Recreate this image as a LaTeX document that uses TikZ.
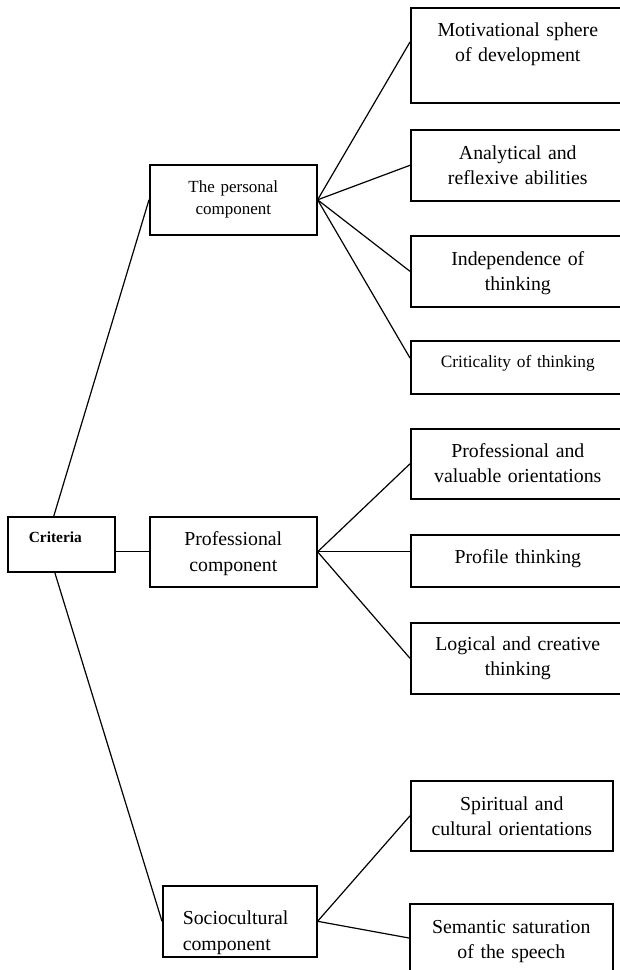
\documentclass[tikz,border=0pt]{standalone}
\usepackage{fontspec}
\setmainfont{Liberation Serif}
\begin{document}
\begin{tikzpicture}[x=1pt,y=-1pt,
  box/.style={draw,line width=1.6pt,anchor=north west,inner sep=0pt,align=center,font=\fontsize{19.8}{25}\selectfont},
  link/.style={line width=1.2pt}]
\useasboundingbox (0,0) rectangle (619,970);
\node[box,text width=107pt,text height=26pt,text depth=29pt,align=left,font=\bfseries\fontsize{15.4}{18}\selectfont] (C) at (7,516) {\hspace*{21pt}Criteria};
\node[box,text width=167pt,text height=28pt,text depth=42pt,font=\fontsize{17}{22}\selectfont] (P1) at (149,164) {The personal\\component};
\node[box,text width=167pt,text height=29pt,text depth=41pt,font=\fontsize{19.8}{26}\selectfont] (P2) at (149,516) {Professional\\component};
\node[box,text width=154pt,text height=39pt,text depth=32pt,align=left,font=\fontsize{19.8}{26}\selectfont] (P3) at (162,885) {\hspace*{20pt}Sociocultural\\\hspace*{20pt}component};
\node[box,text width=214pt,text height=29pt,text depth=66pt] (M) at (410,7) {Motivational sphere\\of development};
\node[box,text width=214pt,text height=30pt,text depth=41pt] (A) at (410,129) {Analytical and\\reflexive abilities};
\node[box,text width=214pt,text height=30pt,text depth=41pt] (I) at (410,235) {Independence of\\thinking};
\node[box,text width=214pt,text height=27pt,text depth=26pt,font=\fontsize{17.3}{22}\selectfont] (K) at (410,340) {Criticality of thinking};
\node[box,text width=214pt,text height=29pt,text depth=41pt] (V) at (410,428) {Professional and\\valuable orientations};
\node[box,text width=214pt,text height=29pt,text depth=23pt] (F) at (410,534) {Profile thinking};
\node[box,text width=214pt,text height=28pt,text depth=43pt] (L) at (410,622) {Logical and creative\\thinking};
\node[box,text width=202pt,text height=30pt,text depth=40pt] (S) at (410,780) {Spiritual and\\cultural orientations};
\node[box,text width=203pt,text height=30pt,text depth=80pt] (T) at (409,903) {Semantic saturation\\of the speech};
% criteria to components
\draw[link] ([xshift=-7.5pt]C.north) -- (P1.west);
\draw[link] (C.east |- P2.west) -- (P2.west);
\draw[link] ([xshift=-6.5pt]C.south) -- (P3.west);
% personal component
\draw[link] (P1.east) -- ([yshift=-35pt]M.north west);
\draw[link] (P1.east) -- (A.west);
\draw[link] (P1.east) -- (I.west);
\draw[link] (P1.east) -- ([yshift=-18pt]K.north west);
% professional component
\draw[link] (P2.east) -- (V.west);
\draw[link] (P2.east) -- (F.west |- P2.east);
\draw[link] (P2.east) -- (L.west);
% sociocultural component
\draw[link] (P3.east) -- (S.west);
\draw[link] (P3.east) -- ([yshift=-35pt]T.north west);
\end{tikzpicture}
\end{document}
